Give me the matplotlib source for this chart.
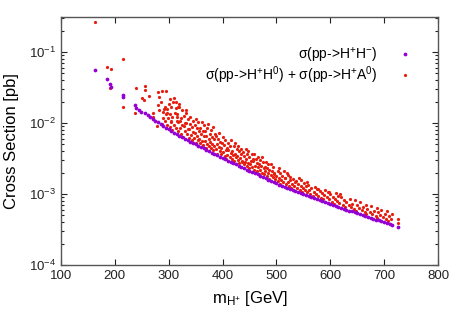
import matplotlib
matplotlib.use('Agg')
import matplotlib.pyplot as plt
from matplotlib.ticker import LogLocator, FixedLocator, NullFormatter

plt.rcParams['font.family'] = ['Liberation Sans', 'DejaVu Sans']
plt.rcParams['mathtext.fontset'] = 'custom'
plt.rcParams['mathtext.rm'] = 'Liberation Sans'
plt.rcParams['mathtext.it'] = 'Liberation Sans'
plt.rcParams['mathtext.default'] = 'regular'

# sigma(pp -> H+ H-)
hh_mass = [163.5, 186, 191, 193, 216, 216, 237, 240, 245, 249, 256, 262, 266, 271, 275,
           280, 285, 290, 295, 300, 305, 310, 315, 320, 325, 330, 335, 340, 345, 350,
           355, 360, 365, 370, 375, 380, 385, 390, 395, 400, 405, 410, 415, 420, 425,
           430, 435, 440, 445, 450, 455, 460, 465, 470, 475, 480, 485, 490, 495, 500,
           505, 510, 515, 520, 525, 530, 535, 540, 545, 550, 555, 560, 565, 570, 575,
           580, 585, 590, 595, 600, 605, 610, 615, 620, 625, 630, 635, 640, 645, 650,
           655, 660, 665, 670, 675, 680, 685, 690, 695, 700, 705, 710, 715, 726]
hh_xsec = [0.0557, 0.041, 0.0355, 0.0324, 0.0245, 0.023, 0.0178, 0.016, 0.0150, 0.0144,
           0.0137, 0.0129, 0.0122, 0.0113, 0.0108, 0.0102, 0.0096, 0.0090, 0.0085, 0.0081,
           0.0077, 0.0073, 0.0069, 0.0066, 0.0063, 0.0060, 0.0057, 0.0054, 0.0052, 0.0050,
           0.00479, 0.00458, 0.00438, 0.00419, 0.0040, 0.00383, 0.00366, 0.0035, 0.00334,
           0.0032, 0.00307, 0.00294, 0.00283, 0.00272, 0.00261, 0.0025, 0.0024, 0.0023,
           0.00221, 0.00212, 0.00204, 0.00195, 0.00188, 0.0018, 0.00173, 0.00166, 0.00159,
           0.00153, 0.00147, 0.00141, 0.00135, 0.00131, 0.00126, 0.00122, 0.00118, 0.00115,
           0.00111, 0.00107, 0.00104, 0.00101, 0.000975, 0.000944, 0.000913, 0.000884,
           0.000856, 0.000828, 0.000802, 0.000775, 0.00075, 0.000727, 0.000703, 0.000681,
           0.000659, 0.000639, 0.000621, 0.000603, 0.000585, 0.000575, 0.000555, 0.000538,
           0.000522, 0.000507, 0.000492, 0.000477, 0.000463, 0.00045, 0.000437, 0.000424,
           0.000411, 0.000399, 0.000388, 0.000377, 0.000366, 0.000347]

# sigma(pp -> H+ H0) + sigma(pp -> H+ A0), scattered points
hz_mass = [163.5, 186, 193, 215.5, 191, 215.5, 237, 239.5, 256, 256, 250, 255, 263, 270, 271,
           278, 281, 288, 295, 281.5, 281, 282, 302, 309, 294, 305, 317, 313, 320, 289.5,
           297, 315, 333, 330, 321.5, 304,
           287, 293, 289, 295, 291, 286,
           303, 297, 305, 299, 302, 296, 301,
           306, 313, 309, 315, 307, 311, 314, 308,
           323, 317, 321, 325, 318, 322, 316, 324, 320,
           327, 334, 330, 336, 328, 332, 335, 329, 333,
           344, 338, 341, 346, 337, 343, 340, 345, 339,
           351, 355, 347, 353, 349, 356, 352, 348, 354, 350,
           364, 358, 362, 357, 365, 360, 363, 359, 366, 361,
           369, 375, 371, 367, 374, 370, 376, 368, 372, 373,
           383, 378, 385, 380, 377, 384, 381, 386, 379, 382,
           390, 395, 387, 393, 389, 396, 391, 388, 394,
           404, 398, 401, 406, 397, 403, 399, 405, 400,
           407, 413, 409, 416, 411, 408, 414, 410, 415,
           422, 417, 425, 419, 423, 418, 426, 421, 424,
           431, 436, 428, 433, 427, 435, 430, 434, 429,
           445, 439, 442, 437, 444, 440, 446, 438, 443,
           449, 455, 451, 447, 453, 456, 450, 454, 448,
           463, 458, 466, 460, 464, 457, 462, 465, 459,
           467, 473, 469, 476, 471, 468, 475, 470, 474,
           482, 477, 485, 479, 483, 478, 484, 480,
           487, 493, 489, 495, 491, 486, 494, 490,
           503, 498, 505, 500, 496, 502, 504,
           507, 513, 509, 515, 511, 506, 514,
           523, 518, 521, 525, 516, 522, 519,
           527, 533, 529, 535, 531, 526,
           543, 538, 545, 540, 536, 542,
           547, 553, 549, 555, 551, 546,
           563, 557, 561, 565, 559, 556,
           567, 573, 569, 575, 571,
           583, 577, 585, 580, 578,
           587, 593, 589, 595, 591,
           603, 597, 605, 600, 598,
           607, 613, 609, 615, 611,
           623, 617, 625, 620, 618,
           627, 634, 630, 636,
           644, 638, 641, 646,
           647, 653, 649, 655,
           664, 658, 661, 666,
           667, 673, 669, 675,
           684, 678, 681, 686,
           687, 693, 689, 695,
           703, 698, 701, 705,
           707, 713, 709, 715,
           726, 726]
hz_xsec = [0.265, 0.061, 0.0575, 0.079, 0.0308, 0.017, 0.014, 0.0306, 0.0335, 0.029, 0.0228,
           0.0209, 0.0239, 0.014, 0.012, 0.0092, 0.0275, 0.028, 0.028, 0.0229, 0.0178, 0.0152,
           0.0216, 0.0224, 0.0165, 0.017, 0.017, 0.0199, 0.0184, 0.0141, 0.0137, 0.0122,
           0.0152, 0.0101, 0.0108, 0.0107,
           0.0097, 0.0106, 0.0118, 0.0133, 0.0158, 0.0195,
           0.0087, 0.0094, 0.0104, 0.0118, 0.0135, 0.0158, 0.0185,
           0.0079, 0.0086, 0.0095, 0.0106, 0.0121, 0.0140, 0.0162, 0.0195,
           0.0071, 0.0078, 0.0085, 0.0093, 0.0104, 0.0118, 0.0133, 0.0150, 0.0165,
           0.0064, 0.0069, 0.0076, 0.0083, 0.0091, 0.0101, 0.0112, 0.0126, 0.0140,
           0.0058, 0.0062, 0.0068, 0.0074, 0.0081, 0.0089, 0.0098, 0.0108, 0.0122,
           0.0053, 0.0057, 0.0061, 0.0066, 0.0072, 0.0078, 0.0085, 0.0093, 0.0102, 0.0112,
           0.0049, 0.0052, 0.0056, 0.0060, 0.0065, 0.0071, 0.0077, 0.0084, 0.0093, 0.0102,
           0.0045, 0.0048, 0.0051, 0.0055, 0.0060, 0.0065, 0.0071, 0.0078, 0.0086, 0.0096,
           0.0041, 0.0044, 0.0047, 0.0050, 0.0054, 0.0059, 0.0064, 0.0071, 0.0079, 0.0088,
           0.0037, 0.0040, 0.0043, 0.0046, 0.0050, 0.0054, 0.0059, 0.0065, 0.0072,
           0.0034, 0.0036, 0.0039, 0.0042, 0.0045, 0.0049, 0.0053, 0.0058, 0.0064,
           0.0031, 0.0033, 0.0035, 0.0038, 0.0041, 0.0044, 0.0048, 0.0052, 0.0058,
           0.0029, 0.0031, 0.0033, 0.0035, 0.0037, 0.0040, 0.0043, 0.0047, 0.0052,
           0.0027, 0.0028, 0.0030, 0.0032, 0.0034, 0.0037, 0.0040, 0.0043, 0.0047,
           0.0025, 0.0026, 0.0028, 0.0029, 0.0031, 0.0034, 0.0036, 0.0039, 0.0043,
           0.0023, 0.0024, 0.0026, 0.0027, 0.0029, 0.0031, 0.0033, 0.0036, 0.0040,
           0.0021, 0.0022, 0.0024, 0.0025, 0.0027, 0.0029, 0.0031, 0.0033, 0.0036,
           0.0019, 0.0020, 0.0022, 0.0023, 0.0025, 0.0026, 0.0028, 0.0030, 0.0033,
           0.00178, 0.00188, 0.0020, 0.0021, 0.0023, 0.0024, 0.0026, 0.0028,
           0.00164, 0.00173, 0.00184, 0.00196, 0.0021, 0.0022, 0.0024, 0.0026,
           0.00151, 0.00160, 0.00170, 0.00180, 0.00192, 0.0021, 0.0023,
           0.00140, 0.00148, 0.00157, 0.00167, 0.00180, 0.00195, 0.0021,
           0.00130, 0.00137, 0.00146, 0.00156, 0.00168, 0.00182, 0.00198,
           0.00122, 0.00129, 0.00137, 0.00147, 0.00160, 0.00175,
           0.00114, 0.00121, 0.00130, 0.00140, 0.00152, 0.00168,
           0.00108, 0.00114, 0.00122, 0.00131, 0.00143, 0.00158,
           0.00101, 0.00107, 0.00114, 0.00123, 0.00135, 0.00146,
           0.00095, 0.00101, 0.00108, 0.00116, 0.00126,
           0.00089, 0.00095, 0.00102, 0.00110, 0.00118,
           0.00084, 0.00090, 0.00098, 0.00107, 0.00115,
           0.00078, 0.00084, 0.00091, 0.00099, 0.00108,
           0.00073, 0.00079, 0.00086, 0.00094, 0.00103,
           0.00069, 0.00075, 0.00082, 0.00092, 0.00099,
           0.00065, 0.00070, 0.00077, 0.00086,
           0.00061, 0.00066, 0.00073, 0.00083,
           0.00058, 0.00063, 0.00069, 0.00076,
           0.00055, 0.00059, 0.00065, 0.00071,
           0.00052, 0.00056, 0.00061, 0.00067,
           0.00049, 0.00053, 0.00058, 0.00063,
           0.00046, 0.00050, 0.00055, 0.00060,
           0.00044, 0.00048, 0.00052, 0.00057,
           0.00042, 0.00045, 0.00049, 0.00053,
           0.00044, 0.000395]

label_hh = 'σ(pp->H$^{+}$H$^{-}$)'
label_hz = 'σ(pp->H$^{+}$H$^{0}$) + σ(pp->H$^{+}$A$^{0}$)'
x_ticks = [100, 200, 300, 400, 500, 600, 700, 800]

purple = '#9400d3'
red = '#e51e10'

fig = plt.figure(figsize=(4.64, 3.25), dpi=100)
ax = fig.add_axes([61 / 464, 1 - 265 / 325, 377 / 464, 248 / 325])

ax.plot(hz_mass, hz_xsec, linestyle='none', marker='o', ms=2.3, mew=0,
        color=red, label=label_hz, zorder=2)
ax.plot(hh_mass, hh_xsec, linestyle='none', marker='o', ms=2.7, mew=0,
        color=purple, label=label_hh, zorder=3)

ax.set_yscale('log')
ax.set_xlim(100, 800)
ax.set_ylim(1e-4, 0.31)
ax.xaxis.set_major_locator(FixedLocator(x_ticks))
ax.yaxis.set_major_locator(LogLocator(base=10))
ax.yaxis.set_minor_locator(LogLocator(base=10, subs=range(2, 10)))
ax.yaxis.set_minor_formatter(NullFormatter())

ax.tick_params(which='both', direction='in', top=True, right=True,
               labelsize=9.5, colors='#222222', width=0.8)
ax.tick_params(which='major', length=4)
ax.tick_params(which='minor', length=2.2)
for s in ax.spines.values():
    s.set_linewidth(1.0)
    s.set_color('#555555')

ax.set_xlabel(r'm$_{H^{+}}$ [GeV]', fontsize=12, labelpad=5)
ax.set_ylabel('Cross Section [pb]', fontsize=12, labelpad=7)

h, l = ax.get_legend_handles_labels()
ax.legend(h[::-1], l[::-1], loc='upper right', bbox_to_anchor=(0.931, 0.885),
          markerfirst=False, frameon=False, numpoints=1, fontsize=10,
          handlelength=1.0, handletextpad=1.5, labelspacing=0.0,
          borderpad=0, borderaxespad=0)

fig.savefig('out.png', dpi=100)
